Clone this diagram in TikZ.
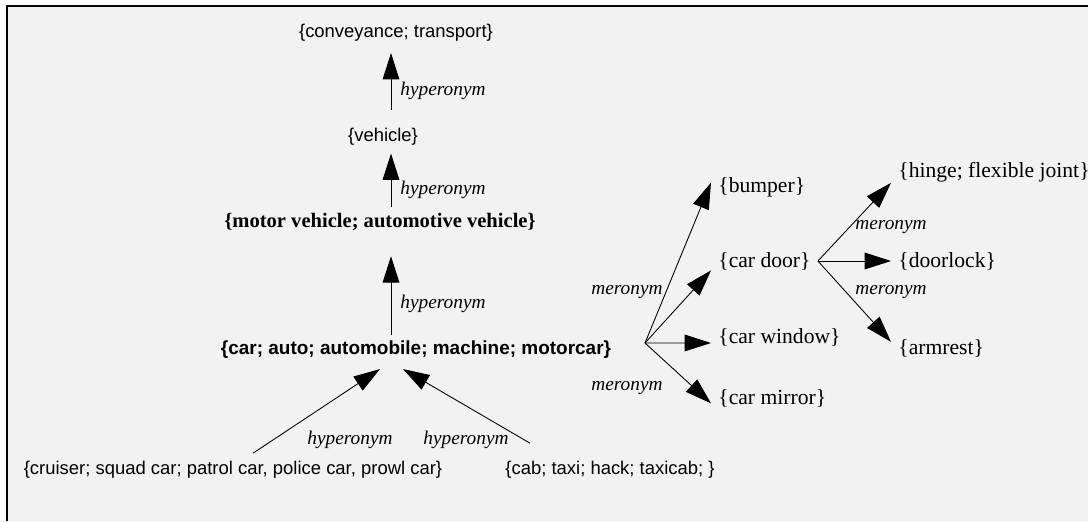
\documentclass[tikz,border=0pt]{standalone}
\usepackage{fontspec}
\setmainfont{Liberation Serif}
\setsansfont{Liberation Sans}
\usepackage{xcolor}
\usetikzlibrary{arrows.meta}

\definecolor{paper}{RGB}{242,242,242}

\tikzset{
  rel/.style={-{Triangle[length=15pt,width=9.5pt]}, line width=0.5pt},
  relname/.style={font=\fontsize{11}{13}\selectfont\itshape, inner sep=1pt},
  sanset/.style={font=\sffamily\fontsize{10.5}{12}\selectfont},
  sansbold/.style={font=\sffamily\bfseries\fontsize{10.8}{12}\selectfont},
  serifbold/.style={font=\bfseries\fontsize{11.7}{13}\selectfont},
  part/.style={font=\fontsize{12.3}{14}\selectfont, inner sep=4pt, anchor=west}
}

\begin{document}
\begin{tikzpicture}[x=0.02cm,y=-0.02cm]
  % Draw paper
  \useasboundingbox (0,0) rectangle (1088,521);
  \fill[paper] (7,6) rectangle (1088,521);
  \draw[line width=1.2pt] (7,521) -- (7,6) -- (1088,6);

  % Draw hyperonym chain
  \coordinate (axis) at (391,0);
  \node[sanset] (conveyance) at (396,33) {\{conveyance; transport\}};
  \node[sanset] (vehicle) at (383,137) {\{vehicle\}};
  \node[serifbold] (motor) at (380,222) {\{motor vehicle; automotive vehicle\}};
  \node[sansbold] (car) at (416,350) {\{car; auto; automobile; machine; motorcar\}};
  \node[sanset] (cruiser) at (233,470) {\{cruiser; squad car; patrol car, police car, prowl car\}};
  \node[sanset] (cab) at (610,470) {\{cab; taxi; hack; taxicab; \}};

  \draw[rel, shorten <=7pt, shorten >=3pt] (vehicle.north -| axis) -- (conveyance.south -| axis);
  \draw[rel, shorten <=0pt, shorten >=1pt] (motor.north -| axis) -- (vehicle.south -| axis);
  \draw[rel, shorten <=0pt, shorten >=11pt] (car.north -| axis) -- (motor.south -| axis);
  \draw[rel] ([shift={(20,-2)}]cruiser.north) -- ([shift={(-36,4)}]car.south);
  \draw[rel] ([shift={(-80,-12)}]cab.north) -- ([shift={(-13,4)}]car.south);

  \node[relname] (h1) at (443,91) {hyperonym};
  \node[relname] (h2) at (443,190) {hyperonym};
  \node[relname] (h3) at (443,304) {hyperonym};
  \node[relname] (h4) at (350,440) {hyperonym};
  \node[relname] (h5) at (466,440) {hyperonym};

  % Draw meronyms of car
  \coordinate (fan) at (645,343);
  \node[part] (bumper) at (711,187) {\{bumper\}};
  \node[part] (cardoor) at (711,261) {\{car door\}};
  \node[part] (carwindow) at (711,337) {\{car window\}};
  \node[part] (carmirror) at (711,398) {\{car mirror\}};

  \draw[rel] (fan) -- (bumper.175);
  \draw[rel] (fan) -- (cardoor.190);
  \draw[rel] (fan) -- (carwindow.185);
  \draw[rel] (fan) -- (carmirror.185);

  \node[relname] (m1) at (627,292) {meronym};
  \node[relname] (m2) at (627,388) {meronym};

  % Draw meronyms of car door
  \node[part] (hinge) at (891,172) {\{hinge; flexible joint\}};
  \node[part] (doorlock) at (891,261) {\{doorlock\}};
  \node[part] (armrest) at (891,348) {\{armrest\}};

  \draw[rel] (cardoor.east) -- (hinge.186);
  \draw[rel] (cardoor.east) -- (doorlock.west);
  \draw[rel] (cardoor.east) -- (armrest.173);

  \node[relname] (m3) at (891,227) {meronym};
  \node[relname] (m4) at (891,292) {meronym};
\end{tikzpicture}
\end{document}
